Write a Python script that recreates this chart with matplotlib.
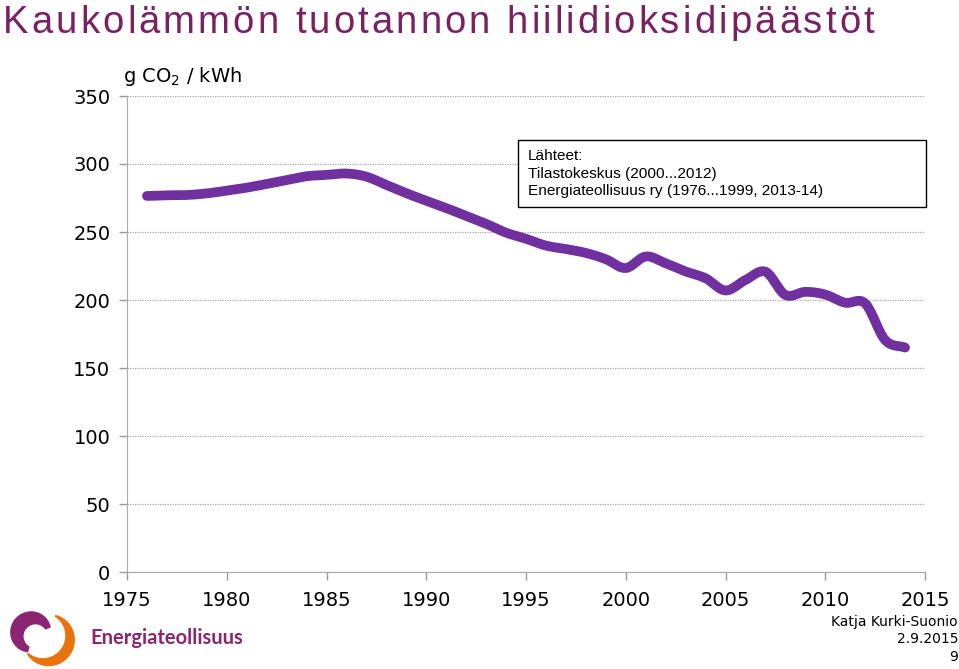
import numpy as np
import matplotlib.pyplot as plt
from matplotlib.patches import Polygon, Rectangle
from matplotlib.font_manager import FontProperties

# Data (g CO2 / kWh)
years = list(range(1976, 2015))
values = [276.5, 277.0, 277.2, 278.4, 280.4, 282.6, 285.3, 288.2, 291.0, 292.0,
          293.0, 290.7, 284.6, 278.5, 273.0, 267.6, 261.8, 256.0, 249.5, 245.0,
          240.0, 237.5, 234.6, 230.0, 223.5, 232.0, 227.0, 221.0, 216.0, 207.0,
          214.7, 220.8, 203.7, 206.0, 204.0, 198.0, 197.5, 170.6, 165.0]

yticks = [0, 50, 100, 150, 200, 250, 300, 350]
xticks = [1975, 1980, 1985, 1990, 1995, 2000, 2005, 2010, 2015]

title = "Kaukolämmön tuotannon hiilidioksidipäästöt"
unit = "g CO$_2$ / kWh"
sources = "Lähteet:\nTilastokeskus (2000...2012)\nEnergiateollisuus ry (1976...1999, 2013-14)"
footer = "Katja Kurki-Suonio\n2.9.2015\n9"

PURPLE = "#7030A0"
TITLE_C = "#7A2162"
LOGO_P = "#8B2572"
LOGO_O = "#E8720C"

W, H = 959, 669


def catmull_rom(x, y, n=20):
    # smooth curve through the points, like Excel's "smoothed line"
    x = np.asarray(x, float)
    y = np.asarray(y, float)
    px = np.concatenate([[2 * x[0] - x[1]], x, [2 * x[-1] - x[-2]]])
    py = np.concatenate([[2 * y[0] - y[1]], y, [2 * y[-1] - y[-2]]])
    xs, ys = [], []
    t = np.linspace(0, 1, n, endpoint=False)
    for i in range(1, len(px) - 2):
        for p, out in ((px, xs), (py, ys)):
            p0, p1, p2, p3 = p[i - 1], p[i], p[i + 1], p[i + 2]
            out.extend(0.5 * (2 * p1 + (-p0 + p2) * t
                              + (2 * p0 - 5 * p1 + 4 * p2 - p3) * t ** 2
                              + (-p0 + 3 * p1 - 3 * p2 + p3) * t ** 3))
    xs.append(x[-1])
    ys.append(y[-1])
    return np.array(xs), np.array(ys)


fig = plt.figure(figsize=(W / 100, H / 100), dpi=100)
ax = fig.add_axes([127 / W, 97 / H, 798 / W, 476 / H])

sx, sy = catmull_rom(years, values)
ax.plot(sx, sy, color=PURPLE, lw=7, solid_capstyle="round", solid_joinstyle="round", zorder=3)

ax.set_xlim(1975, 2015)
ax.set_ylim(0, 350)
ax.set_xticks(xticks)
ax.set_yticks(yticks)
ax.tick_params(axis="both", labelsize=14, colors="#999999", labelcolor="black",
               direction="out", length=6, width=1)
ax.tick_params(axis="x", pad=8)
ax.tick_params(axis="y", pad=6)
for s in ["top", "right"]:
    ax.spines[s].set_visible(False)
for s in ["left", "bottom"]:
    ax.spines[s].set_color("#aaaaaa")
ax.yaxis.grid(True, color="#aaaaaa", linestyle=(0, (1, 1)), lw=0.9)
ax.set_axisbelow(True)

fig.text(123 / W, 1 - 82 / H, unit, fontsize=14, ha="left", va="baseline")

# title with wide letter spacing, one glyph at a time
renderer = fig.canvas.get_renderer()
tprop = FontProperties(family="Liberation Sans", size=27.5)
track = 3.1
for i, ch in enumerate(title):
    if ch == " ":
        continue
    wp, _, _ = renderer.get_text_width_height_descent(title[:i + 1], tprop, ismath=False)
    wc, _, _ = renderer.get_text_width_height_descent(ch, tprop, ismath=False)
    x = 3 + (wp - wc) + i * track
    fig.text(x / W, 1 - 33 / H, ch, fontproperties=tprop, color=TITLE_C,
             ha="left", va="baseline")

# sources box
fig.add_artist(Rectangle((518 / W, 1 - 207 / H), 408 / W, 67 / H, transform=fig.transFigure,
                         fc="white", ec="black", lw=1, zorder=5))
fig.text(528 / W, 1 - 149 / H, sources, fontsize=11.1, family="Liberation Sans",
         ha="left", va="top", linespacing=1.32, zorder=6)

fig.text(0.999, 1 - 615 / H, footer, fontsize=10, ha="right", va="top",
         linespacing=1.3)

# logo
lg = fig.add_axes([0, 0, 1, 1], zorder=-1)
lg.set_xlim(0, W)
lg.set_ylim(H, 0)
lg.axis("off")


def band(cx, cy, r, a0, a1, wmax, wmin, color):
    a = np.radians(np.linspace(a0, a1, 100))
    w = wmin + (wmax - wmin) * np.sin(np.linspace(0, np.pi, 100))
    outer = np.c_[cx + (r + w / 2) * np.cos(a), cy - (r + w / 2) * np.sin(a)]
    inner = np.c_[cx + (r - w / 2) * np.cos(a), cy - (r - w / 2) * np.sin(a)][::-1]
    lg.add_patch(Polygon(np.vstack([outer, inner]), closed=True, fc=color, ec="none"))


band(33, 634, 16, 20, 255, 15, 6, LOGO_P)
band(46, 638, 24, 68, -140, 11, 2, LOGO_O)
lg.text(90, 638, "Energiateollisuus", fontsize=14.5, fontweight="bold", color=LOGO_P,
        family="Lato", ha="left", va="center")

fig.savefig("out.png", dpi=100)
